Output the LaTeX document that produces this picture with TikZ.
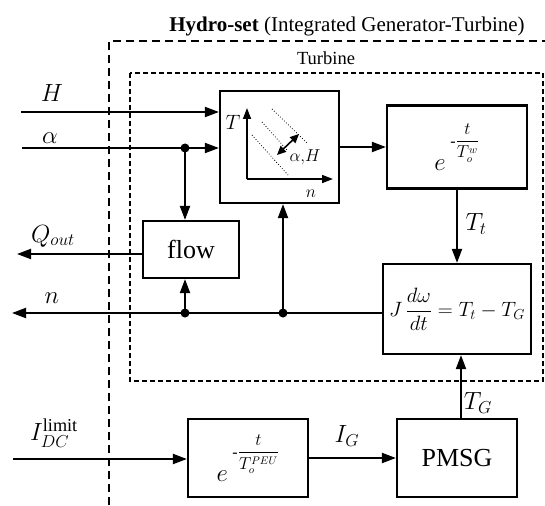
\documentclass[tikz,border=0pt]{standalone}
\usepackage{amsmath}
\usepackage{fontspec}
\setmainfont{Liberation Serif}
\usetikzlibrary{arrows.meta,calc,positioning}

% exponential lag block text
\newcommand{\edecay}[1]{$e^{\mkern4mu\raisebox{0.5em}{\fontsize{16}{16}\selectfont$\mbox{-}\displaystyle\frac{t}{T_o^{#1}}$}}$}

\begin{document}
\begin{tikzpicture}[x=1pt,y=-1pt,
  blk/.style={draw, line width=2.2pt, inner sep=0, align=center},
  sig/.style={line width=2pt, -{Triangle[length=14pt,width=10pt]}},
  wire/.style={line width=2pt},
  jdot/.style={circle, fill, inner sep=0, minimum size=9pt},
  lbl/.style={inner sep=0, font=\fontsize{24}{28}\selectfont},
  ax/.style={line width=1.6pt, -{Triangle[length=11pt,width=8pt]}},
  font=\fontsize{26}{30}\selectfont]

\useasboundingbox (0,0) rectangle (545,505);

% hydro-set and turbine frames
\draw[line width=2pt, dash pattern=on 8pt off 5pt] (109,505) -- (109,41) -- (545,41);
\draw[line width=1.3pt, dash pattern=on 5pt off 3pt] (130,73) rectangle (543,381);
\node[anchor=base, inner sep=0, font=\fontsize{21}{25}\selectfont] (title) at (347,32) {\textbf{Hydro-set} (Integrated Generator-Turbine)};
\node[anchor=base, inner sep=0, font=\fontsize{18.5}{22}\selectfont] (turb) at (326,65) {Turbine};

% blocks
\node[blk, minimum width=119pt, minimum height=112pt] (tbox) at (279.5,147) {};
\node[blk, minimum width=140pt, minimum height=83pt, font=\fontsize{30}{30}\selectfont] (ew) at (457,147) {\edecay{w}};
\node[blk, minimum width=148pt, minimum height=90pt, font=\fontsize{20}{24}\selectfont] (jbox) at (457,309) {$J\,\dfrac{d\omega}{dt}=T_t-T_G$};
\node[blk, minimum width=96pt, minimum height=57pt] (flow) at (191,249.5) {flow};
\node[blk, minimum width=120pt, minimum height=78pt, font=\fontsize{30}{30}\selectfont] (peu) at (248,458) {\edecay{PEU}};
\node[blk, minimum width=120pt, minimum height=78pt] (pmsg) at (457,458) {PMSG};

% characteristic inside turbine block
\draw[ax] (247,179) -- (247,108);
\draw[ax] (247,179) -- (333,179);
\draw[line width=0.8pt, dotted] (252,135) -- (288,175);
\draw[line width=0.8pt, dotted] (262,122) -- (287,150);
\draw[line width=0.8pt, dotted] (272,109) -- (307,143);
\draw[line width=1.6pt, {Triangle[length=9pt,width=8pt]}-{Triangle[length=9pt,width=8pt]}] (277,155) -- (299,134);
\node[inner sep=0, font=\fontsize{20}{24}\selectfont] (tax) at (233,122) {$T$};
\node[inner sep=0, font=\fontsize{18}{22}\selectfont] (nax) at (311,194) {$n$};
\node[inner sep=0, font=\fontsize{19}{22}\selectfont] (ahax) at (305,157) {$\alpha,\!H$};

% signal coordinates
\coordinate (hin) at (21,112);
\coordinate (ain) at (22,148);
\coordinate (qout) at (17,254);
\coordinate (nout) at (12,313);
\coordinate (idcin) at (13,459);
\node[jdot] (da) at (185,148) {};
\node[jdot] (dn1) at (185,313) {};
\node[jdot] (dn2) at (283,313) {};

% connectors
\draw[sig] (hin) -- (hin -| tbox.west);
\draw[sig] (ain) -- (ain -| tbox.west);
\draw[sig] (da.center) -- (da.center |- flow.north);
\draw[sig] (flow.west |- qout) -- (qout);
\draw[sig] (jbox.west |- nout) -- (nout);
\draw[sig] (dn1.center) -- (dn1.center |- flow.south);
\draw[sig] (dn2.center) -- (dn2.center |- tbox.south);
\draw[sig] (tbox.east |- ew.west) -- (ew.west);
\draw[sig] (ew.south) -- (jbox.north);
\draw[sig] ([xshift=4pt]pmsg.north) -- ([xshift=4pt]jbox.south);
\draw[sig] (peu.east) -- (pmsg.west);
\draw[sig] (idcin) -- (peu.west |- idcin);

% signal labels
\node[lbl] (hlbl) at (52,93) {$H$};
\node[lbl] (albl) at (50,138) {$\alpha$};
\node[lbl] (qlbl) at (53,236) {$Q_{out}$};
\node[lbl] (nlbl) at (52,298) {$n$};
\node[lbl] (ttlbl) at (476,224) {$T_t$};
\node[lbl] (tglbl) at (478,403) {$T_G$};
\node[lbl] (iglbl) at (347,436) {$I_G$};
\node[lbl, font=\fontsize{26}{30}\selectfont] (idclbl) at (54,433) {$I_{DC}^{\text{limit}}$};
\end{tikzpicture}
\end{document}
